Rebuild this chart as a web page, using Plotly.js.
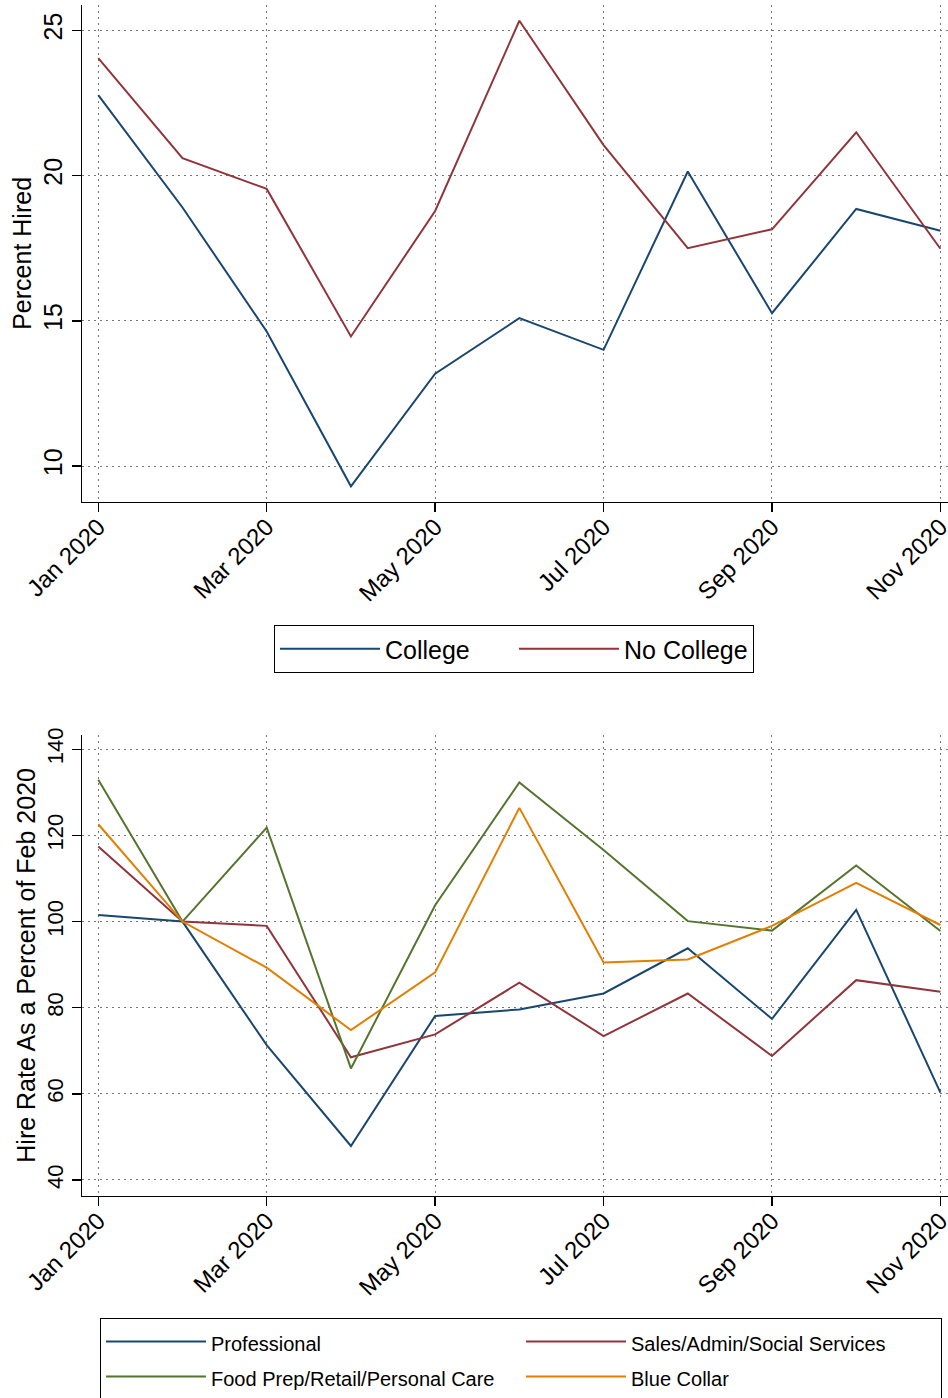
<!DOCTYPE html>
<html>
<head>
<meta charset="utf-8">
<script src="https://cdn.plot.ly/plotly-3.0.1.min.js"></script>
<style>
    html, body { margin: 0; padding: 0; background: #fff; }
    #chart { width: 948px; height: 1398px; }
</style>
</head>
<body>
<div id="chart"></div>
<script>
// ── Hiring by education / occupation, 2020 ──────────────────────────────

const months = ['Jan 2020', 'Feb 2020', 'Mar 2020', 'Apr 2020', 'May 2020', 'Jun 2020',
                'Jul 2020', 'Aug 2020', 'Sep 2020', 'Oct 2020', 'Nov 2020'];
const monthTicks = ['Jan 2020', 'Mar 2020', 'May 2020', 'Jul 2020', 'Sep 2020', 'Nov 2020'];

// Panel 1 — percent hired
const college   = [22.77, 18.9, 14.63, 9.30, 13.18, 15.09, 14.00, 20.14, 15.26, 18.85, 18.10];
const noCollege = [24.04, 20.60, 19.54, 14.46, 18.78, 25.33, 21.05, 17.50, 18.15, 21.49, 17.48];
const hiredTicks = [10, 15, 20, 25];

// Panel 2 — hire rate as % of Feb 2020
const professional = [101.5, 100, 71.3, 47.9, 78.1, 79.6, 83.3, 93.8, 77.4, 102.7, 60.3];
const salesAdmin   = [117.4, 100, 99.0, 68.5, 73.8, 85.8, 73.4, 83.3, 68.8, 86.4, 83.7];
const foodPrep     = [132.9, 100, 121.8, 65.9, 103.8, 132.3, 116.6, 100.1, 97.9, 113.0, 97.8];
const blueCollar   = [122.6, 100, 89.3, 74.8, 88.2, 126.4, 90.5, 91.2, 99.0, 109.0, 99.2];
const rateTicks = [40, 60, 80, 100, 120, 140];

const FONT = '"Liberation Sans", Arial, sans-serif';
const COL = { navy: '#1a476f', maroon: '#90353b', green: '#55752f', orange: '#e37e00' };

function linea(y, name, color, xa, ya, legend) {
    return {
        type: 'scatter', mode: 'lines',
        x: months, y: y, name: name,
        xaxis: xa, yaxis: ya, legend: legend,
        line: { color: color, width: 2 },
    };
}

// la leyenda de abajo usa filas más altas que su letra: texto a 20px dentro de una fila de ~25px
const chico = s => `<span style="font-size:20px">${s}</span>`;

// ejes comunes estilo Stata: línea negra, ticks hacia fuera, rejilla punteada
const ejeBase = {
    showline: true, linecolor: '#000', linewidth: 1.5,
    ticks: 'outside', ticklen: 9, tickwidth: 1.5, tickcolor: '#000',
    showgrid: true, gridcolor: '#777', gridwidth: 1, griddash: '2px,4px',
    zeroline: false, fixedrange: true, automargin: false,
};

function ejeX(anchor) {
    return Object.assign({}, ejeBase, {
        type: 'category', anchor: anchor,
        domain: [0.0868, 1],
        range: [-0.19, 10.09],
        tickvals: monthTicks,
        tickangle: -45,
        ticklabelstandoff: -9,
        tickfont: { size: 24, family: FONT, color: '#000' },
    });
}

function ejeY(anchor, dom, rango, vals, titulo, fsize) {
    return Object.assign({}, ejeBase, {
        anchor: anchor, domain: dom, range: rango,
        tickvals: vals, tickangle: -90,
        tickfont: { size: fsize, family: FONT, color: '#000' },
        title: { text: titulo, font: { size: 25, family: FONT, color: '#000' }, standoff: 0 },
    });
}

const data = [
    linea(college,      'College',    COL.navy,   'x', 'y', 'legend'),
    linea(noCollege,    'No College', COL.maroon, 'x', 'y', 'legend'),
    linea(professional, chico('Professional'),                   COL.navy,   'x2', 'y2', 'legend2'),
    linea(salesAdmin,   chico('Sales/Admin/Social Services'),    COL.maroon, 'x2', 'y2', 'legend2'),
    linea(foodPrep,     chico('Food Prep/Retail/Personal Care'), COL.green,  'x2', 'y2', 'legend2'),
    linea(blueCollar,   chico('Blue Collar'),                    COL.orange, 'x2', 'y2', 'legend2'),
];

const layout = {
    width: 948, height: 1398,
    margin: { t: 0, r: 0, b: 0, l: 0, autoexpand: false },
    paper_bgcolor: '#fff', plot_bgcolor: '#fff',
    font: { family: FONT, color: '#000' },
    showlegend: true,
    xaxis:  ejeX('y'),
    xaxis2: ejeX('y2'),
    yaxis:  ejeY('x',  [0.6411, 0.9964], [8.77, 25.87], hiredTicks, 'Percent Hired', 25),
    yaxis2: ejeY('x2', [0.1447, 0.4742], [36.35, 143.3], rateTicks, 'Hire Rate As a Percent of Feb 2020', 22),
    legend: {
        x: 274 / 948, y: 1 - 625 / 1398, xanchor: 'left', yanchor: 'top',
        orientation: 'h', entrywidth: 124, entrywidthmode: 'pixels', itemwidth: 100,
        font: { size: 25, family: FONT, color: '#000' },
        bordercolor: '#000', borderwidth: 1, bgcolor: '#fff',
    },
    legend2: {
        x: 100 / 948, y: 1 - 1318 / 1398, xanchor: 'left', yanchor: 'top',
        orientation: 'h', entrywidth: 305, entrywidthmode: 'pixels', itemwidth: 100,
        font: { size: 24.6, family: FONT, color: '#000' },
        bordercolor: '#000', borderwidth: 1, bgcolor: '#fff',
    },
};

Plotly.newPlot('chart', data, layout, { displayModeBar: false, staticPlot: true });
</script>
</body>
</html>
